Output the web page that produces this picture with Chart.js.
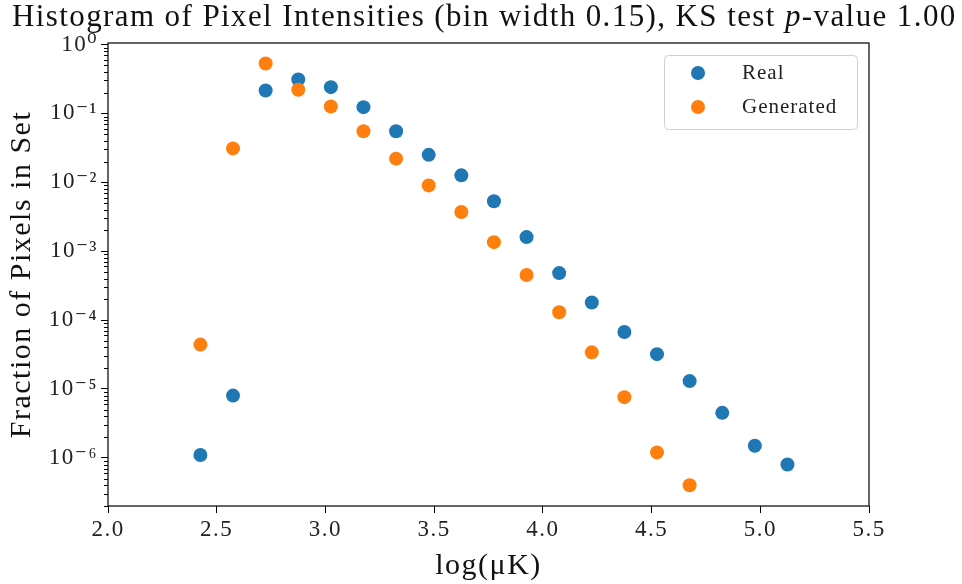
<!DOCTYPE html>
<html lang="en">
<head>
<meta charset="UTF-8">
<title>Histogram of Pixel Intensities</title>
<script src="https://cdn.jsdelivr.net/npm/chart.js"></script>
<style>
  body { margin: 0; background: #fff; }
  #wrap { width: 962px; height: 584px; }
</style>
</head>
<body>
<div id="wrap"><canvas id="histChart" width="962" height="584"></canvas></div>
<script>
// bin centres (log muK) and fraction of pixels per bin
const binCenters = [2.425, 2.575, 2.725, 2.875, 3.025, 3.175, 3.325, 3.475, 3.625, 3.775,
                    3.925, 4.075, 4.225, 4.375, 4.525, 4.675, 4.825, 4.975, 5.125];
const realFrac = [1.1e-6, 8e-6, 0.215, 0.31, 0.24, 0.123, 0.055, 0.025, 0.0126, 0.0053,
                  0.0016, 4.8e-4, 1.8e-4, 6.7e-5, 3.2e-5, 1.3e-5, 4.5e-6, 1.5e-6, 8e-7];
const genFrac = [4.4e-5, 0.031, 0.53, 0.22, 0.126, 0.055, 0.022, 0.009, 0.0037, 0.00135,
                 4.5e-4, 1.3e-4, 3.4e-5, 7.6e-6, 1.2e-6, 4e-7];
const seriesNames = ['Real', 'Generated'];
const xTicks = [2.0, 2.5, 3.0, 3.5, 4.0, 4.5, 5.0, 5.5];
const yPowers = [-7, -6, -5, -4, -3, -2, -1, 0];
const supDigits = { '-': '⁻', '0': '⁰', '1': '¹', '2': '²', '3': '³', '4': '⁴', '5': '⁵', '6': '⁶', '7': '⁷', '8': '⁸', '9': '⁹' };
// title pieces: [text, italic]
const titleParts = [['Histogram of Pixel Intensities (bin width 0.15), KS test ', false], ['p', true], ['-value 1.00', false]];

const serif = "'Liberation Serif', 'DejaVu Serif', serif";
const blue = '#1f77b4';
const orange = '#ff7f0e';

function toPoints(ys) {
    return ys.map((y, i) => ({ x: binCenters[i], y: y }));
}
function isPow10(v) {
    const l = Math.log10(v);
    return Math.abs(l - Math.round(l)) < 1e-9;
}

// serif text in the reference is wider, so space letters out a bit
const spacingPlugin = {
    id: 'spacing',
    beforeLayout(chart) { chart.ctx.letterSpacing = '1.5px'; },
    beforeDraw(chart) { chart.ctx.letterSpacing = '1.5px'; }
};

// title, frame around the plot, minor y ticks and the legend box
const framePlugin = {
    id: 'frame',
    afterDraw(chart) {
        const c = chart.ctx;
        const a = chart.chartArea;
        const ys = chart.scales.y;
        c.save();
        c.strokeStyle = '#000';
        c.lineWidth = 1.2;
        c.strokeRect(a.left, a.top, a.right - a.left, a.bottom - a.top);
        c.lineWidth = 1;
        ys.ticks.forEach(t => {
            if (isPow10(t.value)) return;
            const py = Math.round(ys.getPixelForValue(t.value)) + 0.5;
            c.beginPath();
            c.moveTo(a.left - 4, py);
            c.lineTo(a.left, py);
            c.stroke();
        });

        // title, stretched to the same span as the reference
        const tFont = it => (it ? 'italic ' : '') + '31px ' + serif;
        c.letterSpacing = '0px';
        let raw = 0, nChars = 0;
        titleParts.forEach(([s, it]) => { c.font = tFont(it); raw += c.measureText(s).width; nChars += s.length; });
        const sp = (943 - raw) / (nChars - 1);
        c.letterSpacing = sp.toFixed(2) + 'px';
        c.fillStyle = '#111';
        c.textBaseline = 'alphabetic';
        c.textAlign = 'left';
        let tx = 12;
        titleParts.forEach(([s, it]) => {
            c.font = tFont(it);
            c.fillText(s, tx, 26);
            tx += c.measureText(s).width;
        });

        // legend
        const bw = 193, bh = 74;
        const bx = a.right - 12 - bw, by = a.top + 12;
        c.letterSpacing = '1px';
        c.fillStyle = 'rgba(255,255,255,0.8)';
        c.strokeStyle = '#d0d0d0';
        c.lineWidth = 1;
        c.beginPath();
        c.roundRect(bx + 0.5, by + 0.5, bw, bh, 4);
        c.fill();
        c.stroke();
        chart.data.datasets.forEach((ds, i) => {
            const cy = by + 18 + i * 34;
            c.fillStyle = ds.backgroundColor;
            c.beginPath();
            c.arc(bx + 34, cy, 7, 0, Math.PI * 2);
            c.fill();
            c.fillStyle = '#222';
            c.font = '21px ' + serif;
            c.textBaseline = 'middle';
            c.fillText(ds.label, bx + 78, cy);
        });
        c.restore();
        c.letterSpacing = '0px';
    }
};

const ctx = document.getElementById('histChart').getContext('2d');
const histChart = new Chart(ctx, {
    type: 'scatter',
    data: {
        datasets: [{
            label: seriesNames[0],
            data: toPoints(realFrac),
            backgroundColor: blue,
            borderWidth: 0,
            pointRadius: 7,
            order: 1
        }, {
            label: seriesNames[1],
            data: toPoints(genFrac),
            backgroundColor: orange,
            borderWidth: 0,
            pointRadius: 7,
            order: 0
        }]
    },
    options: {
        responsive: false,
        animation: false,
        layout: { padding: { left: 0, right: 93, top: 43, bottom: 0 } },
        plugins: {
            legend: { display: false },
            tooltip: { enabled: false },
            title: { display: false }
        },
        scales: {
            x: {
                type: 'linear',
                min: 2.0,
                max: 5.5,
                afterBuildTicks(scale) {
                    scale.ticks = xTicks.map(v => ({ value: v }));
                },
                afterFit(scale) { scale.height = 78; },
                grid: { drawOnChartArea: false, tickLength: 7, tickColor: '#000', tickWidth: 1 },
                border: { display: false },
                ticks: {
                    color: '#222',
                    padding: 3,
                    font: { family: serif, size: 23 },
                    callback: v => Number(v).toFixed(1)
                },
                title: {
                    display: true,
                    text: 'log(μK)',
                    color: '#111',
                    font: { family: serif, size: 30 },
                    padding: { top: 0, bottom: 0 }
                }
            },
            y: {
                type: 'logarithmic',
                min: 2e-7,
                max: 1.05,
                bounds: 'data',
                afterBuildTicks(scale) {
                    const ticks = [];
                    yPowers.forEach(p => {
                        for (let m = 1; m <= 9; m++) {
                            const v = m * Math.pow(10, p);
                            if (v >= 2e-7 && v <= 1.05) ticks.push({ value: v, major: m === 1 });
                        }
                    });
                    scale.ticks = ticks;
                },
                afterFit(scale) { scale.width = 108; },
                grid: {
                    drawOnChartArea: false,
                    tickLength: 7,
                    tickWidth: 1,
                    tickColor: c => (c.tick && isPow10(c.tick.value)) ? '#000' : 'rgba(0,0,0,0)'
                },
                border: { display: false },
                ticks: {
                    color: '#222',
                    padding: 3,
                    autoSkip: false,
                    font: { family: serif, size: 23 },
                    callback: v => {
                        if (!isPow10(v)) return '';
                        const p = String(Math.round(Math.log10(v)));
                        return '10' + p.split('').map(ch => supDigits[ch]).join('');
                    }
                },
                title: {
                    display: true,
                    text: 'Fraction of Pixels in Set',
                    color: '#111',
                    font: { family: serif, size: 30 },
                    padding: { top: 4, bottom: 0 }
                }
            }
        }
    },
    plugins: [spacingPlugin, framePlugin]
});
</script>
</body>
</html>
